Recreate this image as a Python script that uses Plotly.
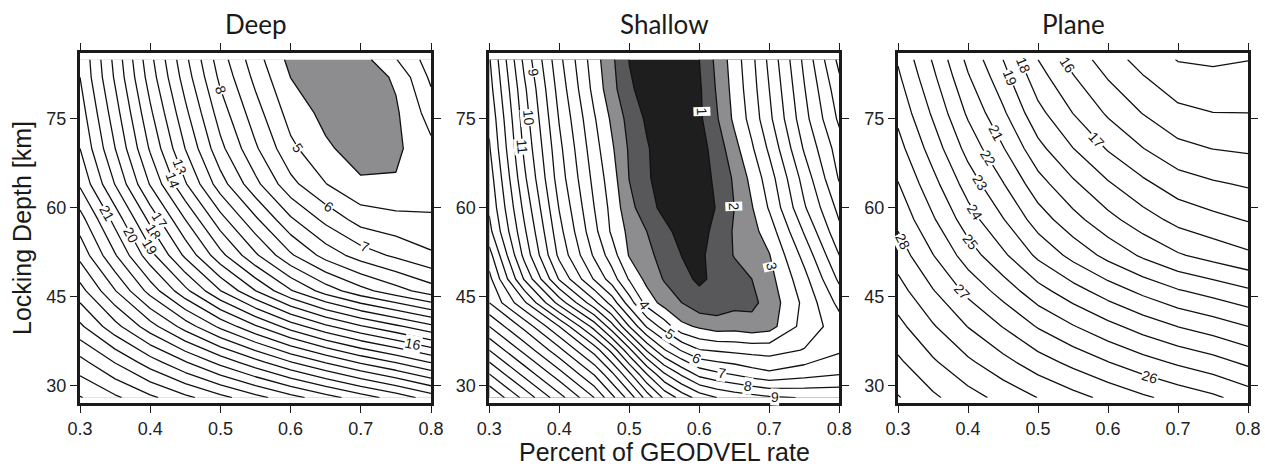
import numpy as np
import plotly.graph_objects as go

# ---------------- grids (Percent of GEODVEL rate vs Locking Depth) ----------------
deep_x = [0.30, 0.35, 0.40, 0.45, 0.50, 0.55, 0.60, 0.65, 0.70, 0.75, 0.80]
deep_y = [28, 34, 40, 46, 52, 58, 64, 70, 76, 82, 85]
deep_z = [
    [32.07, 31.18, 30.22, 29.26, 28.32, 27.35, 26.38, 25.43, 24.48, 23.58, 22.55],
    [30.33, 28.94, 27.48, 26.06, 24.67, 23.35, 22.04, 20.91, 19.84, 18.93, 17.92],
    [28.20, 26.35, 24.43, 22.57, 20.77, 19.13, 17.55, 16.21, 15.10, 14.20, 13.25],
    [26.40, 24.05, 21.61, 19.28, 17.03, 15.02, 13.11, 11.55, 10.35, 9.41, 8.50],
    [24.70, 22.09, 19.37, 16.79, 14.32, 12.17, 10.15, 8.61, 7.53, 6.81, 6.15],
    [23.43, 20.64, 17.73, 15.00, 12.40, 10.20, 8.17, 6.73, 5.60, 5.30, 5.13],
    [21.85, 18.96, 15.92, 13.11, 10.45, 8.28, 6.30, 5.03, 4.15, 4.10, 4.50],
    [21.00, 18.01, 14.87, 11.98, 9.28, 7.15, 5.24, 4.16, 3.55, 3.80, 4.75],
    [20.50, 17.43, 14.19, 11.24, 8.51, 6.42, 4.59, 3.71, 3.50, 3.85, 5.44],
    [20.00, 16.86, 13.53, 10.53, 7.76, 5.73, 3.99, 3.31, 3.40, 4.15, 6.20],
    [19.90, 16.70, 13.30, 10.25, 7.45, 5.42, 3.70, 3.10, 3.60, 4.95, 6.50],
]

shallow_x = [0.30, 0.35, 0.40, 0.45, 0.475, 0.50, 0.525, 0.55, 0.575,
             0.60, 0.625, 0.65, 0.675, 0.70, 0.75, 0.80]
shallow_y = [28, 32, 36, 40, 44, 48, 52, 56, 60, 65, 70, 75, 80, 85]
shallow_z = [
    [27.00, 24.70, 22.40, 20.00, 18.30, 16.60, 14.60, 12.80, 11.60, 10.60, 10.00, 9.65, 9.40, 9.15, 8.95, 8.85],
    [25.00, 22.70, 20.40, 17.90, 16.20, 14.20, 12.00, 10.10, 8.80, 7.65, 7.20, 6.90, 6.50, 6.20, 6.60, 6.95],
    [23.00, 20.70, 18.30, 15.60, 13.70, 11.30, 8.90, 7.10, 5.90, 5.05, 4.90, 4.75, 4.65, 4.60, 5.05, 5.85],
    [21.00, 18.70, 16.00, 12.60, 10.40, 8.00, 5.90, 4.55, 3.25, 2.85, 2.50, 2.60, 2.40, 2.60, 4.40, 5.50],
    [19.00, 16.20, 12.60, 9.30, 7.60, 5.50, 3.60, 2.60, 2.00, 1.35, 1.40, 1.70, 1.75, 2.40, 4.25, 6.30],
    [18.30, 13.90, 9.90, 6.90, 5.50, 3.90, 2.70, 1.92, 1.25, 0.85, 1.20, 1.60, 2.00, 2.65, 4.68, 7.20],
    [17.40, 12.70, 8.75, 5.84, 4.50, 2.92, 2.28, 1.62, 0.98, 0.80, 1.40, 2.05, 2.49, 2.95, 5.33, 8.00],
    [16.30, 12.18, 8.33, 5.29, 3.84, 2.74, 2.00, 1.32, 0.60, 0.55, 1.35, 2.10, 2.67, 3.48, 6.10, 8.75],
    [15.85, 11.73, 7.94, 5.00, 3.70, 2.30, 1.43, 0.70, 0.35, 0.55, 1.05, 2.00, 2.93, 4.10, 6.88, 9.30],
    [15.50, 11.20, 7.50, 4.70, 3.45, 1.97, 1.15, 0.50, 0.35, 0.55, 1.20, 2.15, 3.29, 4.53, 7.41, 10.10],
    [15.10, 10.80, 7.25, 4.40, 3.15, 1.87, 1.10, 0.45, 0.35, 0.60, 1.42, 2.65, 3.86, 5.18, 8.12, 10.50],
    [14.80, 10.50, 6.93, 4.10, 2.83, 1.64, 0.85, 0.40, 0.40, 0.80, 1.90, 3.20, 4.37, 5.76, 8.65, 11.20],
    [14.40, 10.20, 6.60, 3.68, 2.37, 1.14, 0.65, 0.40, 0.45, 0.85, 2.10, 3.36, 4.58, 6.00, 8.94, 11.65],
    [14.10, 9.73, 6.27, 3.45, 2.20, 0.97, 0.60, 0.40, 0.55, 1.00, 2.26, 3.50, 4.74, 6.24, 9.24, 12.30],
]

plane_x = [0.30, 0.35, 0.40, 0.45, 0.50, 0.55, 0.60, 0.65, 0.70, 0.75, 0.80]
plane_y = [28, 34, 40, 46, 52, 58, 64, 70, 76, 82, 85]
plane_z = [
    [32.07, 31.18, 30.40, 29.68, 28.98, 28.35, 27.74, 27.16, 26.66, 26.19, 25.56],
    [31.18, 30.14, 29.18, 28.32, 27.45, 26.71, 26.02, 25.38, 24.83, 24.37, 23.79],
    [30.29, 29.10, 27.97, 26.96, 25.92, 25.07, 24.29, 23.58, 22.98, 22.52, 22.00],
    [29.40, 28.06, 26.74, 25.59, 24.37, 23.40, 22.52, 21.75, 21.09, 20.63, 20.15],
    [28.54, 27.03, 25.51, 24.20, 22.79, 21.69, 20.70, 19.84, 19.11, 18.63, 18.19],
    [27.74, 26.12, 24.47, 23.06, 21.52, 20.35, 19.32, 18.44, 17.70, 17.28, 16.93],
    [27.05, 25.33, 23.56, 22.06, 20.41, 19.19, 18.12, 17.23, 16.49, 16.13, 15.89],
    [26.36, 24.55, 22.65, 21.07, 19.30, 18.02, 16.91, 16.02, 15.29, 14.98, 14.85],
    [25.73, 23.84, 21.83, 20.17, 18.30, 16.98, 15.85, 14.96, 14.24, 14.01, 14.00],
    [25.17, 23.21, 21.10, 19.39, 17.43, 16.08, 14.94, 14.06, 13.38, 13.23, 13.36],
    [24.90, 22.90, 20.75, 19.00, 17.00, 15.63, 14.48, 13.62, 12.95, 12.85, 12.97],
]

# contour levels drawn as lines
deep_levels = list(range(5, 33))
shallow_levels = list(range(4, 28))
plane_levels = list(range(13, 33))

# labelled contours: (level, search along 'y'=row or 'x'=column, where, near)
deep_labels = [(8, "y", 79.9, 0.48), (5, "y", 70.1, 0.575), (6, "y", 60.2, 0.62),
               (7, "y", 53.4, 0.68), (13, "y", 66.9, 0.432), (14, "y", 64.7, 0.422),
               (17, "y", 58.0, 0.402), (18, "y", 56.0, 0.395), (19, "y", 53.4, 0.395),
               (20, "y", 55.4, 0.364), (21, "y", 59.1, 0.321), (16, "x", 0.775, 37.2)]
shallow_labels = [(9, "y", 82.9, 0.358), (10, "y", 75.2, 0.354), (11, "y", 70.3, 0.347),
                  (1, "y", 76.2, 0.605), (2, "y", 60.2, 0.651), (3, "y", 50.1, 0.706),
                  (4, "x", 0.522, 43.1), (5, "x", 0.558, 38.3), (6, "x", 0.596, 34.4),
                  (7, "x", 0.632, 31.8), (8, "x", 0.670, 29.9), (9, "x", 0.708, 28.4)]
plane_labels = [(16, "y", 84.0, 0.541), (17, "y", 71.5, 0.584), (18, "y", 84.0, 0.479),
                (19, "y", 81.9, 0.464), (21, "y", 72.6, 0.443), (22, "y", 68.4, 0.434),
                (23, "y", 64.2, 0.424), (24, "y", 59.3, 0.414), (25, "y", 54.3, 0.406),
                (27, "y", 45.8, 0.396), (28, "y", 54.3, 0.307), (26, "x", 0.66, 31.0)]

panel_titles = ["Deep", "Shallow", "Plane"]
x_ticks = [0.3, 0.4, 0.5, 0.6, 0.7, 0.8]
y_ticks = [30, 45, 60, 75]
Y_RANGE = [27.1, 86.1]

W, H = 1265, 467
panels_px = [(80, 431), (489.3, 839.3), (898, 1248)]
top_px, bottom_px = 53, 403
PXX = 350 / 0.5
PXY = (bottom_px - top_px) / (Y_RANGE[1] - Y_RANGE[0])

SANS = "Liberation Sans, Arial, sans-serif"
LABEL_FONT = dict(family=SANS, size=14, color="#151515")
LINE = dict(color="#111111", width=1.3, smoothing=0)


def _profile(z, xs, ys, mode, c):
    """Values along the row y=c (mode 'y') or the column x=c (mode 'x')."""
    Z = np.asarray(z, float)
    if mode == "y":
        g = np.asarray(ys, float)
        i = int(np.clip(np.searchsorted(g, c) - 1, 0, len(g) - 2))
        t = (c - g[i]) / (g[i + 1] - g[i])
        return np.asarray(xs, float), Z[i] * (1 - t) + Z[i + 1] * t
    g = np.asarray(xs, float)
    j = int(np.clip(np.searchsorted(g, c) - 1, 0, len(g) - 2))
    t = (c - g[j]) / (g[j + 1] - g[j])
    return np.asarray(ys, float), Z[:, j] * (1 - t) + Z[:, j + 1] * t


def _crossing(coords, vals, level, hint):
    best = None
    for k in range(len(vals) - 1):
        a, b = vals[k] - level, vals[k + 1] - level
        if a == 0:
            p = coords[k]
        elif a * b < 0 or b == 0:
            p = coords[k] + (coords[k + 1] - coords[k]) * a / (a - b)
        else:
            continue
        if best is None or abs(p - hint) < abs(best - hint):
            best = p
    return best


def label_spot(z, xs, ys, level, mode, c, hint):
    p = _crossing(*_profile(z, xs, ys, mode, c), level, hint)
    d = 0.5 if mode == "y" else 0.004
    lo, hi = (ys[0], ys[-1]) if mode == "y" else (xs[0], xs[-1])
    c1, c2 = max(c - d, lo), min(c + d, hi)
    p1 = _crossing(*_profile(z, xs, ys, mode, c1), level, p)
    p2 = _crossing(*_profile(z, xs, ys, mode, c2), level, p)
    if mode == "y":
        x, y, dx, dy = p, c, p2 - p1, c2 - c1
    else:
        x, y, dx, dy = c, p, c2 - c1, p2 - p1
    ang = float(np.degrees(np.arctan2(-dy * PXY, dx * PXX)))
    if ang > 90:
        ang -= 180
    if ang <= -90:
        ang += 180
    return x, y, ang


fig = go.Figure()
annotations = []


def add_lines(z, x, y, levels, ax):
    for lv in levels:
        fig.add_trace(go.Contour(
            x=x, y=y, z=z, autocontour=False,
            contours=dict(start=lv, end=lv, size=1, coloring="none", showlabels=False),
            line=LINE, showscale=False, hoverinfo="skip",
            xaxis="x" + ax, yaxis="y" + ax,
        ))


def add_labels(z, x, y, labels, ax):
    for lv, mode, c, hint in labels:
        px, py, ang = label_spot(z, x, y, lv, mode, c, hint)
        annotations.append(dict(x=px, y=py, xref="x" + ax, yref="y" + ax, text=str(lv),
                                textangle=ang, showarrow=False, font=LABEL_FONT,
                                bgcolor="white", borderpad=0,
                                xanchor="center", yanchor="middle"))


# Deep: shaded misfit minimum below level 4
fig.add_trace(go.Contour(
    x=deep_x, y=deep_y, z=deep_z, autocontour=False,
    contours=dict(start=4, end=4, size=1, coloring="fill", showlabels=False),
    colorscale=[[0, "#8d8d90"], [0.5, "#8d8d90"], [0.5, "white"], [1, "white"]],
    line=LINE, showscale=False, hoverinfo="skip", xaxis="x", yaxis="y",
))
add_lines(deep_z, deep_x, deep_y, deep_levels, "")
add_labels(deep_z, deep_x, deep_y, deep_labels, "")

# Shallow: three shaded bands below 1, 2 and 3
fig.add_trace(go.Contour(
    x=shallow_x, y=shallow_y, z=shallow_z, autocontour=False,
    contours=dict(start=1, end=3, size=1, coloring="fill", showlabels=False),
    colorscale=[[0, "#1e1e1e"], [1 / 6, "#1e1e1e"], [1 / 6, "#58585b"], [0.5, "#58585b"],
                [0.5, "#8d8d90"], [5 / 6, "#8d8d90"], [5 / 6, "white"], [1, "white"]],
    line=LINE, showscale=False, hoverinfo="skip", xaxis="x2", yaxis="y2",
))
add_lines(shallow_z, shallow_x, shallow_y, shallow_levels, "2")
add_labels(shallow_z, shallow_x, shallow_y, shallow_labels, "2")

# Plane: lines only
add_lines(plane_z, plane_x, plane_y, plane_levels, "3")
add_labels(plane_z, plane_x, plane_y, plane_labels, "3")

ydom = [(H - bottom_px) / H, (H - top_px) / H]
tick_font = dict(family=SANS, size=18, color="#222222")
common = dict(showline=True, linewidth=3, linecolor="#1a1a1a", mirror="ticks",
              ticks="outside", ticklen=7, tickwidth=1, tickcolor="#1a1a1a",
              showgrid=False, zeroline=False, tickfont=tick_font, automargin=False)

layout = dict(template="none", width=W, height=H,
              margin=dict(l=0, r=0, t=0, b=0, pad=0, autoexpand=False),
              paper_bgcolor="white", plot_bgcolor="white", showlegend=False,
              font=dict(family=SANS))
for i, (x0, x1) in enumerate(panels_px):
    suf = "" if i == 0 else str(i + 1)
    layout["xaxis" + suf] = dict(common, domain=[x0 / W, x1 / W], range=[0.3, 0.8],
                                 tickvals=x_ticks, ticktext=[f"{v:.1f}" for v in x_ticks],
                                 anchor="y" + suf)
    layout["yaxis" + suf] = dict(common, domain=ydom, range=Y_RANGE,
                                 tickvals=y_ticks, anchor="x" + suf)
    annotations.append(dict(text=panel_titles[i], x=(x0 + x1) / 2 / W, y=1 - 24 / H,
                            xref="paper", yref="paper", showarrow=False,
                            xanchor="center", yanchor="middle",
                            font=dict(family="Lato, sans-serif", size=26, color="#1a1a1a")))

annotations.append(dict(text="Locking Depth [km]", x=22 / W, y=(H - 228) / H,
                        xref="paper", yref="paper", showarrow=False, textangle=-90,
                        xanchor="center", yanchor="middle",
                        font=dict(family=SANS, size=25, color="#1a1a1a")))
annotations.append(dict(text="Percent of GEODVEL rate", x=(489.3 + 839.3) / 2 / W,
                        y=(H - 452) / H, xref="paper", yref="paper", showarrow=False,
                        xanchor="center", yanchor="middle",
                        font=dict(family=SANS, size=25, color="#1a1a1a")))
layout["annotations"] = annotations
fig.update_layout(**layout)

fig.write_html("out.html")
